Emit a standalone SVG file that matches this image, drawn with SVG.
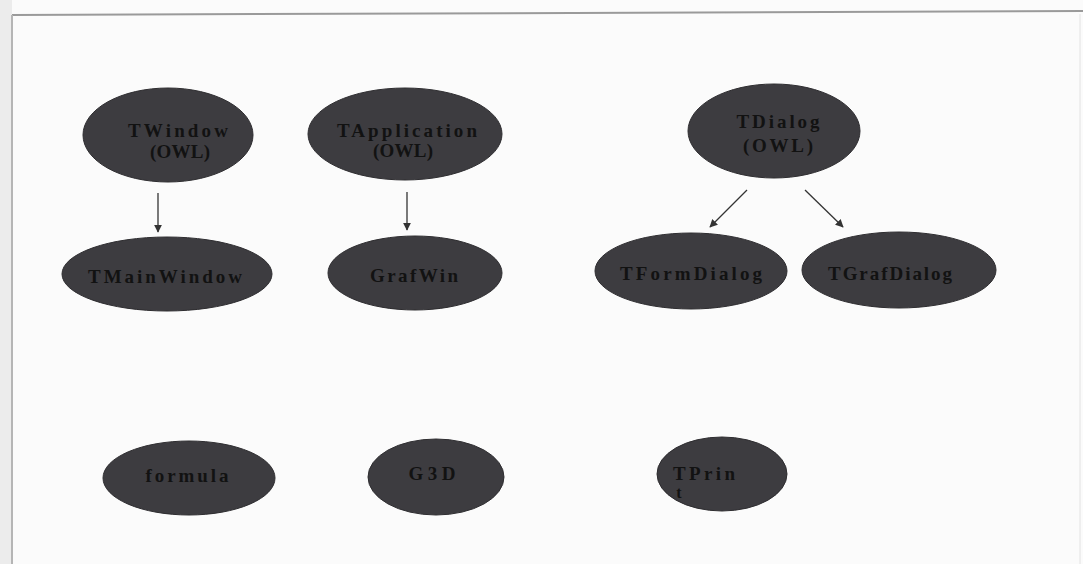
<svg xmlns="http://www.w3.org/2000/svg" width="1083" height="564" viewBox="0 0 1083 564">
<style>
.node ellipse{fill:#3d3c40;stroke:#2e2d30;stroke-width:1}
.node text{font-family:"Liberation Serif","DejaVu Serif",serif;font-weight:bold;font-size:19px;fill:#121212;text-anchor:middle}
.conn line{stroke:#333;stroke-width:1.3;marker-end:url(#ah)}
</style>
<defs>
<marker id="ah" viewBox="0 0 10 10" refX="9" refY="5" markerWidth="8" markerHeight="8" orient="auto" markerUnits="userSpaceOnUse">
<path d="M0,0 L10,5 L0,10 z" fill="#333"/>
</marker>
</defs>
<rect width="1083" height="564" fill="#fbfbfb"/>
<rect x="0" y="0" width="12" height="564" fill="#ececec"/>
<line x1="12" y1="15" x2="1083" y2="11" stroke="#9a9a9a" stroke-width="2"/>
<line x1="12" y1="15" x2="12" y2="564" stroke="#b5b5b5" stroke-width="2"/>
<line x1="1080" y1="14" x2="1080" y2="564" stroke="#e2e2e2" stroke-width="1"/>

<g class="conn">
<line x1="158" y1="193" x2="158" y2="232"/>
<line x1="407" y1="192" x2="407" y2="230"/>
<line x1="747" y1="190" x2="710" y2="227"/>
<line x1="805" y1="190" x2="843" y2="227"/>
</g>

<g id="TWindow" class="node">
<ellipse cx="168" cy="135" rx="85" ry="47"/>
<text x="178" y="137" textLength="100" lengthAdjust="spacing">TWindow</text>
<text x="180" y="158" textLength="60" lengthAdjust="spacing">(OWL)</text>
</g>
<g id="TApplication" class="node">
<ellipse cx="405" cy="134" rx="97" ry="46"/>
<text x="407" y="137" textLength="140" lengthAdjust="spacing">TApplication</text>
<text x="403" y="157" textLength="60" lengthAdjust="spacing">(OWL)</text>
</g>
<g id="TDialog" class="node">
<ellipse cx="774" cy="131" rx="86" ry="47"/>
<text x="778" y="128" textLength="83" lengthAdjust="spacing">TDialog</text>
<text x="778" y="152" textLength="70" lengthAdjust="spacing">(OWL)</text>
</g>
<g id="TMainWindow" class="node">
<ellipse cx="167" cy="274" rx="105" ry="37"/>
<text x="165" y="283" textLength="154" lengthAdjust="spacing">TMainWindow</text>
</g>
<g id="GrafWin" class="node">
<ellipse cx="415" cy="273" rx="87" ry="37"/>
<text x="414" y="282" textLength="88" lengthAdjust="spacing">GrafWin</text>
</g>
<g id="TFormDialog" class="node">
<ellipse cx="691" cy="271" rx="96" ry="38"/>
<text x="691" y="280" textLength="142" lengthAdjust="spacing">TFormDialog</text>
</g>
<g id="TGrafDialog" class="node">
<ellipse cx="899" cy="270" rx="97" ry="38"/>
<text x="890" y="280" textLength="124" lengthAdjust="spacing">TGrafDialog</text>
</g>
<g id="formula" class="node">
<ellipse cx="189" cy="478" rx="86" ry="37"/>
<text x="187" y="482" textLength="83" lengthAdjust="spacing">formula</text>
</g>
<g id="G3D" class="node">
<ellipse cx="436" cy="477" rx="68" ry="38"/>
<text x="432" y="480" textLength="47" lengthAdjust="spacing">G3D</text>
</g>
<g id="TPrint" class="node">
<ellipse cx="722" cy="474" rx="65" ry="37"/>
<text x="704" y="480" textLength="62" lengthAdjust="spacing">TPrin</text>
<text x="679" y="498" style="font-size:16px">t</text>
</g>
</svg>
